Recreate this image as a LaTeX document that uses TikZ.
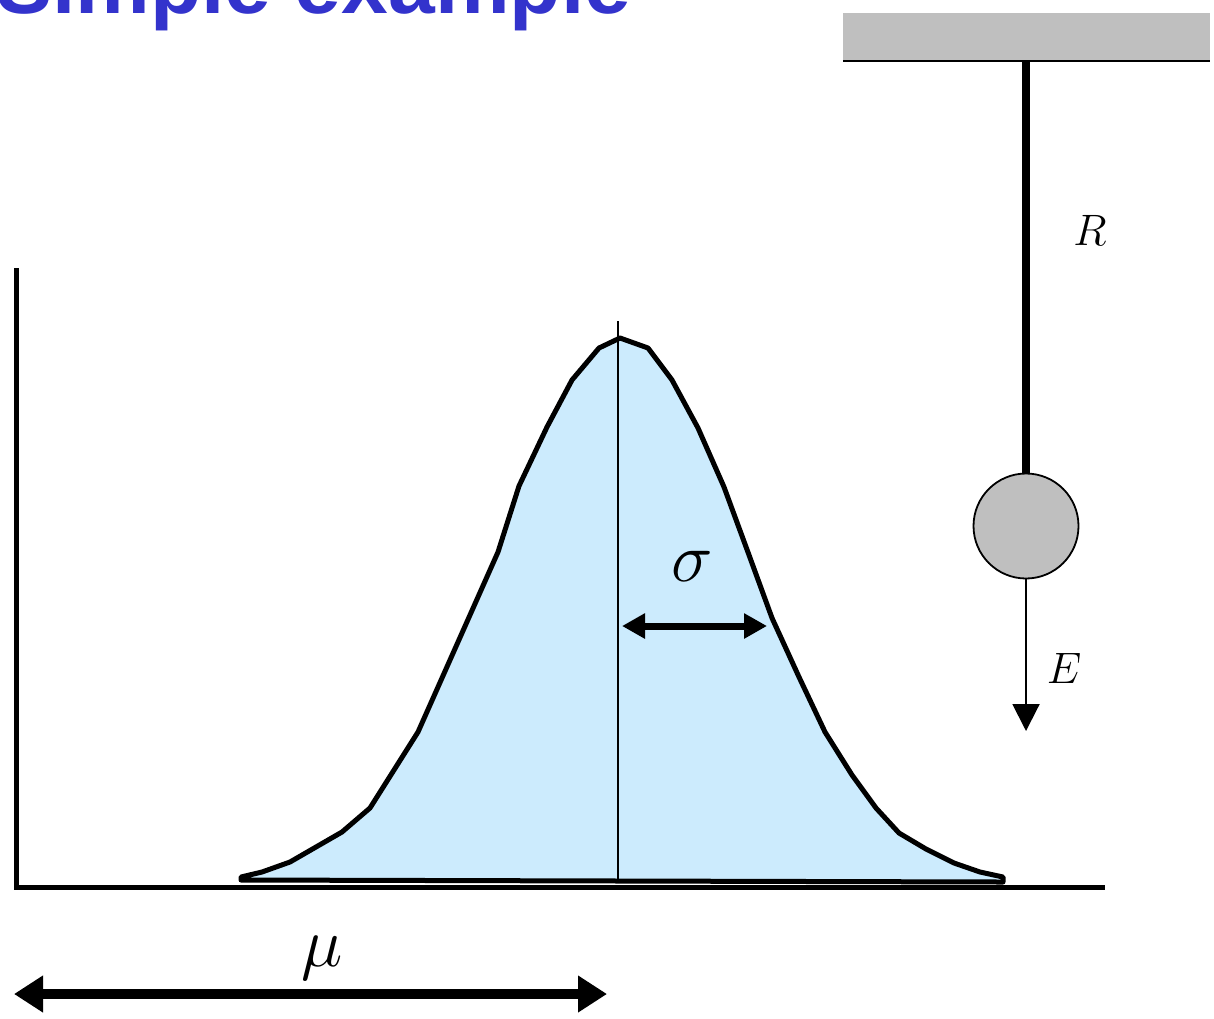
\RequirePackage{fix-cm}
\documentclass[tikz,border=0pt]{standalone}
\usepackage{fontspec}
\setmainfont{Liberation Serif}
\newfontfamily\titlefont{Liberation Sans}
\usetikzlibrary{arrows.meta}
\definecolor{titleblue}{HTML}{3333CC}
\definecolor{fillblue}{HTML}{CCEBFD}
\definecolor{grayfill}{HTML}{BFBFBF}
\tikzset{
  curvestyle/.style={line width=5, line join=round, fill=fillblue, draw=black},
  axisstyle/.style={line width=5},
  lbl/.style={inner sep=0, font=\fontsize{44}{44}\selectfont},
  greek/.style={inner sep=0, font=\fontsize{70}{70}\selectfont},
}
\begin{document}
\begin{tikzpicture}[x=1pt,y=-1pt]
\useasboundingbox (0,0) rectangle (1214,1018);
% title
\node[anchor=base west, inner sep=0, text=titleblue,
  font=\titlefont\bfseries\fontsize{84}{84}\selectfont] (title) at (-4,13) {Simple example};
% ceiling
\fill[grayfill] (843,13) rectangle (1210,61);
\draw[line width=2.5] (843,61) -- (1210,61);
\coordinate (rodtop) at (1026,61);
% ball
\node[circle, draw, line width=1.8, fill=grayfill, minimum size=105, inner sep=0] (ball) at (1026,526) {};
\draw[line width=8] (rodtop) -- (ball.north);
\coordinate (Eend) at (1026,731);
\draw[line width=2, -{Triangle[length=27,width=27]}] (ball.south) -- (Eend);
\node[lbl] (Rlabel) at (1090,230) {$R$};
\node[lbl] (Elabel) at (1064,668) {$E$};
% gaussian
\draw[curvestyle] (241,877) -- (262,872) -- (290,862) -- (342,832) -- (370,808) -- (418,732) -- (470,615) -- (498,552) -- (519,486) -- (547,427) -- (572,380) -- (599,348) -- (620,338) -- (648,348) -- (672,380) -- (698,428) -- (724,487) -- (749,555) -- (772,618) -- (799,677) -- (825,732) -- (852,775) -- (876,808) -- (899,833) -- (926,849) -- (954,863) -- (980,872) -- (1003,877) -- (1003,882) -- (241,880) -- cycle;
\draw[line width=1.5] (618,321) -- (618,880);
% axes
\coordinate (ytop) at (16,268);
\coordinate (origin) at (16,887);
\coordinate (xend) at (1105,887);
\draw[axisstyle] (ytop) -- (origin) -- (xend);
% sigma
\coordinate (sL) at (622,626);
\coordinate (sR) at (767,626);
\draw[line width=7, {Triangle[length=23,width=24]}-{Triangle[length=23,width=24]}] (sL) -- (sR);
\node[greek] (sigma) at (692,566) {$\sigma$};
% mu
\coordinate (mL) at (14,994);
\coordinate (mR) at (607,994);
\draw[line width=10, {Triangle[length=29,width=35]}-{Triangle[length=29,width=35]}] (mL) -- (mR);
\node[greek] (mu) at (322,958) {$\mu$};
\end{tikzpicture}
\end{document}
